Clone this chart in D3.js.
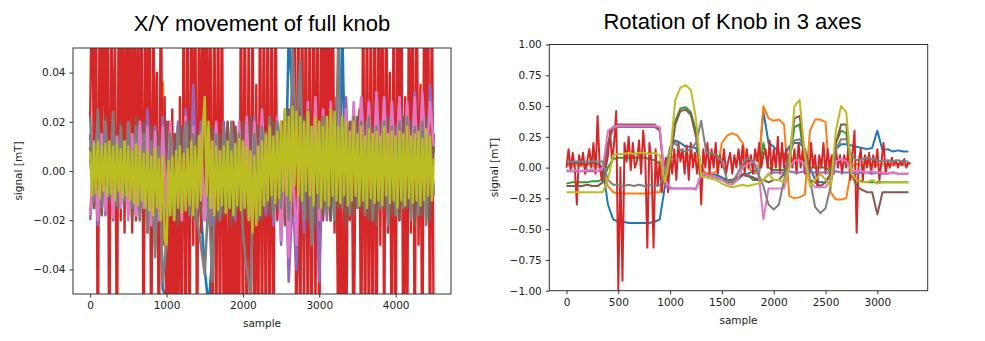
<!DOCTYPE html>
<html><head><meta charset="utf-8">
<script src="https://cdnjs.cloudflare.com/ajax/libs/d3/7.8.5/d3.min.js"></script>
<style>body{margin:0;background:#fff}svg{display:block}</style>
</head><body>
<svg id="c" width="985" height="341"></svg>
<script>
// ---------- shared ----------
const tab10 = ["#1f77b4","#ff7f0e","#2ca02c","#d62728","#9467bd","#8c564b","#e377c2","#7f7f7f","#bcbd22"];

// ---------- Left panel: X/Y movement (values in µT, plotted as mT) ----------
const xyTitle = "X/Y movement of full knob";
const xyTicksX = [0, 1000, 2000, 3000, 4000];
const xyTicksY = [-0.04, -0.02, 0.00, 0.02, 0.04];
const xyStep = 50;      // sample spacing of the coarse series
const xyStepFine = 25;  // sample spacing of red and olive
const xyBlue = [5,-12,18,-10,20,-8,15,-14,22,-10, 18,-12,20,-15,16,-18,12,-30,10,-48, -52,-20,8,-15,14,-10,18,-12,15,-16,
  -40,-55,-35,-15,10,-12,15,-8,18,-10, 12,-20,8,-15,14,-12,18,-10,15,-14, 20,-18,55,30,-20,-45,10,-30,15,-12,
  18,-15,22,-20,25,-40,60,-20,15,-10, 20,-12,18,-15,22,-10,20,-18,15,-12, 18,-14,20,-12,22,-15,18,-10,20,-12,15];
const xyOrange = [8,-10,12,-8,14,-12,10,-9,15,-11, 12,-14,15,-10,18,-12,20,38,-15,36, -10,15,-12,18,-14,12,-10,15,-12,16,
  -15,14,-12,16,-18,12,-14,15,-10,12, -22,14,-12,18,-14,12,-16,15,-12,18, -15,12,-14,16,-18,14,-28,12,-15,10,
  -14,12,-16,15,-12,18,-14,12,-15,16, -12,14,-16,12,-15,18,-13,14,-18,12, -14,15,-12,18,-16,12,-14,15,-12,14,-10];
const xyGreen = [10,-12,14,-9,16,-13,12,-10,15,-11, 14,-12,16,-14,12,-15,18,-12,14,-16, 12,-18,14,-15,16,-12,18,-14,12,-15,
  14,-16,12,-18,15,-12,14,-20,16,-13, 15,-14,12,-16,18,-12,14,-15,13,-17, 12,-15,16,-12,18,-14,15,-13,12,-16,
  14,-12,17,-15,12,-18,15,-13,16,-12, 14,-16,12,-15,18,-12,14,-15,16,-13, 12,-15,14,-12,16,-14,12,-15,14,-12,10];
const xyRed = [20,90,-10,90,-90,85,-5,90,-15,90, -90,90,-20,60,-90,90,-20,90,-25,85, -10,90,-25,90,-20,80,-20,90,-90,90,
  -25,90,-90,85,-20,40,-90,90,-30,30, -90,20,-90,25,-90,15,-90,30,-85,90, -90,90,-90,90,-30,90,-90,80,-25,90,
  -20,90,-15,70,-90,90,-90,90,-90,90, -90,15,-90,10,-90,20,-90,12,-90,90, -90,90,-90,60,-90,90,-90,35,-90,90,
  -90,90,-90,90,-90,80,-90,90,-20,15, -15,20,-10,15,-20,25,-10,90,-90,90, -90,90,-70,90,-90,85,-90,90,-60,90,
  -90,90,-20,90,-15,85,-20,90,-25,30, -90,25,-90,10,-90,15,-20,20,-90,15, -15,25,-90,90,-90,90,-90,85,-90,90,
  -90,90,-30,90,-80,90,-25,40,-90,90, -90,90,-20,90,-90,30,-90,90,-25,85, -90,90,-30,35,-90,90,-20,90,-90,90, -90];
const xyPurple = [-20,5,-22,10,-18,8,-20,12,-15,10, -16,14,-18,20,-12,25,-15,18,-20,22, -18,15,-14,20,-12,25,-15,35,-10,20,
  -18,15,-22,18,-15,20,-12,18,-20,15, -15,18,-20,22,-14,20,-18,15,-22,18, -30,15,-45,-10,-40,12,-25,20,-30,15,
  -45,10,-20,25,-15,28,-12,30,-10,25, -8,30,-5,28,-10,32,-6,30,-8,28, -5,30,-10,28,-6,32,-8,30,-5,35,10];
const xyBrown = [15,-15,20,-18,22,-12,18,-15,20,-14, 18,-20,22,-15,20,-22,18,-25,15,-20, 20,-18,15,-22,18,-15,20,-20,16,-18,
  22,-15,18,-20,15,-18,20,-22,18,-15, 20,-18,22,-15,18,-20,16,-18,20,-15, 18,-22,25,-18,20,-15,22,-20,18,-22,
  20,-18,22,-20,25,-15,18,-22,20,-18, 22,-15,20,-20,18,-22,20,-15,22,-18, 18,-20,22,-15,20,-22,18,-18,22,-20,15];
const xyPink = [-18,12,-20,15,-16,10,-19,14,-15,12, -20,15,-18,20,-15,18,-22,16,-20,18, -15,20,-18,15,-20,22,-14,18,-16,15,
  -20,18,-15,20,-18,15,-12,18,-16,20, -14,22,-18,20,-12,25,-15,20,-18,22, -28,10,-35,5,-30,15,-20,28,-10,30,
  -20,25,-15,28,-8,30,-5,25,-10,28, -5,30,0,28,-8,32,-2,30,-5,28, 0,30,-8,28,-2,30,-5,32,0,28,10];
const xyGray = [22,-12,25,-15,20,-10,24,-14,18,-12, 20,-15,18,-20,15,-25,12,-35,10,-45, -30,15,-20,18,-15,20,-18,15,-20,-30,
  -42,-10,-45,15,-20,18,-15,20,-18,15, -25,-40,-50,15,-20,18,-15,22,-18,20, -15,25,-20,50,10,45,-20,25,-30,20,
  -15,22,-18,25,-20,55,-15,20,-18,22, -15,20,-18,22,-20,18,-15,20,-22,18, -18,20,-15,22,-20,18,-18,20,-22,15,-10];
const xyOlive = [8,-10,11,-9,12,-11,10,-8,11,-10, 12,-9,10,-12,11,-8,9,-11,12,-10, 10,-12,8,-13,11,-14,9,-12,7,-15,
  8,-16,6,-18,9,-15,5,-20,6,-28, -30,4,-18,6,-20,8,-15,10,-17,7, -16,9,-14,12,-18,10,-15,14,-12,18,
  30,-10,20,-15,12,-18,10,-16,8,-14, 10,-17,12,-15,8,-18,11,-14,13,-16, 12,-15,10,-20,8,-25,6,-22,10,-18,
  12,-14,15,-12,18,-10,14,-13,16,-11, 20,-8,25,-10,22,-12,26,-6,24,-10, 22,-12,20,-8,24,-10,18,-14,22,-9,
  20,-15,18,-12,22,-14,25,-10,24,-12, 18,-13,22,-10,20,-14,16,-12,20,-10, 15,-14,18,-12,14,-15,17,-11,15,-13,
  16,-12,14,-14,18,-10,15,-13,16,-12, 14,-15,16,-12,15,-14,18,-11,14,-13, 15,-12,16,-14,13,-12,17,-10,14,-12, 5];

// ---------- Right panel: rotation (mT) ----------
const rotTitle = "Rotation of Knob in 3 axes";
const rotTicksX = [0, 500, 1000, 1500, 2000, 2500, 3000];
const rotTicksY = [-1.00, -0.75, -0.50, -0.25, 0.00, 0.25, 0.50, 0.75, 1.00];
const rotStep = 50;
const rotStepRed = 20;
const rotBlue = [0.03,0.03,0.04,0.03,0.03,0.04,0.03,0.0,-0.3,-0.42, -0.44,-0.44,-0.45,-0.45,-0.45,-0.45,-0.45,-0.44,-0.42,-0.15,
  0.15,0.22,0.2,0.17,0.17,0.16,0.0,-0.05,-0.05,-0.06, -0.08,-0.1,-0.12,-0.1,-0.06,-0.05,-0.03,-0.02,0.46,0.2,
  0.17,0.12,0.1,0.17,0.2,0.2,0.15,0.0,-0.1,-0.12, -0.12,-0.05,0.15,0.19,0.19,0.18,0.17,0.16,0.15,0.16, 0.3,0.14,0.15,0.13,0.14,0.13,0.13];
const rotOrange = [0.02,0.01,0.02,0.01,0.02,0.02,0.01,-0.02,-0.15,-0.2, -0.21,-0.21,-0.21,-0.21,-0.21,-0.21,-0.21,-0.2,-0.2,-0.05,
  0.08,0.1,0.1,0.08,0.1,0.1,0.0,-0.05,-0.05,-0.03, 0.2,0.26,0.28,0.26,0.2,0.0,-0.04,-0.05,0.5,0.4,
  0.38,0.39,0.35,-0.23,-0.25,-0.24,-0.22,0.3,0.39,0.39, 0.37,-0.2,-0.26,-0.26,-0.25,0.0,0.03,0.02,0.03,0.02, 0.02,0.03,0.02,0.02,0.03,0.02,0.03];
const rotGreen = [-0.13,-0.12,-0.12,-0.12,-0.12,-0.11,-0.11,-0.1,0.0,0.07, 0.08,0.08,0.08,0.08,0.08,0.08,0.07,0.06,0.03,-0.1,
  0.1,0.38,0.48,0.49,0.45,0.3,-0.05,-0.06,-0.07,-0.08, -0.1,-0.12,-0.12,-0.1,-0.05,-0.06,-0.1,-0.1,0.2,0.0,
  -0.02,-0.02,-0.02,0.05,0.33,0.35,0.05,0.0,0.0,0.0, 0.0,-0.03,0.2,0.3,0.28,-0.05,-0.1,-0.11,-0.12,-0.12, -0.12,-0.12,-0.12,-0.12,-0.12,-0.12,-0.12];
const rotRed = [0.0,0.15,-0.02,0.12,0.0,-0.3,0.1,0.02,0.12,-0.05, 0.05,0.15,0.0,0.2,-0.05,0.42,0.02,-0.1,0.05,0.0,
  0.1,0.3,0.05,0.2,0.46,-1.0,0.0,-0.92,0.2,0.05, 0.25,-0.02,0.2,0.0,0.05,0.22,-0.05,0.3,0.1,-0.65,
  0.2,0.05,-0.65,0.15,-0.15,0.05,-0.2,0.0,0.08,-0.2, 0.1,-0.05,0.15,-0.1,0.2,0.05,0.15,-0.05,0.18,-0.1,
  0.2,0.0,0.12,-0.05,0.1,-0.3,0.15,0.0,0.2,-0.05, 0.15,0.0,0.2,-0.05,0.1,0.0,0.15,-0.05,0.05,0.12,
  -0.05,0.1,0.0,0.15,0.0,0.18,-0.05,0.15,0.0,0.1, -0.05,0.15,0.05,0.2,0.0,0.1,0.15,0.0,0.22,-0.05,
  0.15,0.0,0.25,-0.05,0.2,0.0,0.15,-0.02,0.12,0.0, 0.15,-0.05,0.2,0.0,0.15,-0.05,0.1,-0.1,0.2,0.0,
  0.1,-0.15,0.1,0.0,0.2,-0.05,0.15,0.0,0.1,-0.05, 0.15,0.0,0.1,-0.05,0.1,0.0,0.15,-0.1,0.1,0.3,
  -0.53,0.05,0.15,-0.1,0.1,0.0,0.12,-0.05,0.1,0.0, 0.15,-0.1,0.05,0.2,-0.05,0.05,0.0,0.08,0.02,0.06, 0.0,0.05,0.02,0.07,0.0,0.04,0.03];
const rotPurple = [-0.03,-0.03,-0.03,-0.03,-0.03,-0.03,-0.03,-0.02,0.2,0.32, 0.33,0.33,0.33,0.33,0.33,0.33,0.33,0.33,0.3,-0.15,
  -0.17,-0.17,-0.17,-0.17,-0.17,-0.17,-0.05,-0.06,-0.07,-0.08, -0.1,-0.1,-0.1,-0.08,-0.06,-0.06,-0.08,-0.1,-0.1,-0.05,
  -0.04,-0.04,-0.04,-0.03,-0.04,-0.04,-0.03,-0.04,-0.04,-0.04, -0.04,-0.04,-0.03,-0.04,-0.04,-0.04,-0.05,-0.04,-0.04,-0.05, -0.04,-0.05,-0.05,-0.04,-0.05,-0.05,-0.05];
const rotBrown = [-0.15,-0.15,-0.15,-0.15,-0.14,-0.15,-0.15,-0.12,0.2,0.33, 0.35,0.35,0.35,0.35,0.35,0.35,0.35,0.35,0.3,-0.1,
  0.05,0.35,0.46,0.47,0.43,0.25,-0.05,-0.06,-0.07,-0.08, -0.1,-0.1,-0.1,-0.08,-0.06,-0.07,-0.08,-0.1,-0.1,-0.12,
  -0.1,-0.1,-0.05,0.1,0.4,0.42,0.1,-0.1,-0.12,-0.15, -0.12,-0.05,0.2,0.35,0.35,-0.05,-0.15,-0.18,-0.2,-0.2, -0.38,-0.2,-0.2,-0.2,-0.2,-0.2,-0.2];
const rotPink = [-0.02,-0.03,-0.02,-0.03,-0.02,-0.02,-0.03,0.0,0.3,0.33, 0.34,0.34,0.34,0.34,0.34,0.34,0.34,0.34,0.33,-0.1,
  -0.16,-0.17,-0.17,-0.17,-0.17,-0.18,-0.05,-0.06,-0.07,-0.08, -0.1,-0.13,-0.14,-0.1,0.0,0.03,0.05,0.0,-0.42,-0.17,
  -0.17,-0.17,-0.17,0.0,0.06,0.06,0.03,-0.12,-0.16,-0.16, -0.16,-0.1,0.05,0.07,0.05,-0.02,-0.03,-0.03,-0.04,-0.03, -0.04,-0.04,-0.05,-0.04,-0.05,-0.05,-0.05];
const rotGray = [0.05,0.05,0.05,0.05,0.05,0.05,0.05,0.05,-0.1,-0.14, -0.14,-0.15,-0.14,-0.15,-0.14,-0.15,-0.14,-0.15,-0.14,-0.05,
  0.17,0.2,0.14,0.13,0.15,0.2,0.38,0.12,0.12,0.1, 0.05,-0.1,-0.12,-0.05,0.03,0.08,0.05,-0.05,-0.15,-0.3,
  -0.34,-0.3,-0.1,0.1,0.22,0.23,0.15,-0.1,-0.32,-0.37, -0.33,-0.15,0.15,0.23,0.23,0.1,0.06,0.07,0.08,0.07, 0.06,0.05,0.06,0.05,0.06,0.05,0.05];
const rotOlive = [-0.2,-0.2,-0.2,-0.2,-0.2,-0.2,-0.2,-0.2,-0.1,0.1, 0.11,0.11,0.12,0.11,0.12,0.12,0.11,0.12,0.1,-0.12,
  0.1,0.55,0.65,0.67,0.63,0.4,-0.07,-0.08,-0.09,-0.1, -0.13,-0.15,-0.16,-0.15,-0.14,-0.15,-0.14,-0.13,-0.1,-0.05,
  -0.1,-0.1,-0.12,0.0,0.5,0.55,0.1,-0.15,-0.1,-0.05, -0.1,-0.15,0.3,0.5,0.45,-0.05,-0.1,-0.12,-0.12,-0.1, -0.13,-0.12,-0.12,-0.12,-0.12,-0.12,-0.12];

// ---------- drawing ----------
const svg = d3.select("#c");
const fmt = v => d3.format(".2f")(v).replace("-", "\u2212");

function panel(cfg, id) {
  const x = d3.scaleLinear().domain(cfg.xDomain).range([cfg.left, cfg.right]);
  const y = d3.scaleLinear().domain(cfg.yDomain).range([cfg.bottom, cfg.top]);
  svg.append("clipPath").attr("id", id).append("rect")
    .attr("x", cfg.left).attr("y", cfg.top)
    .attr("width", cfg.right - cfg.left).attr("height", cfg.bottom - cfg.top);
  const g = svg.append("g").attr("clip-path", `url(#${id})`);
  cfg.series.forEach((s, k) => {
    const line = d3.line().x((d, i) => x(i * s.step)).y(d => y(d * cfg.unit));
    g.append("path").datum(s.values).attr("d", line)
      .attr("fill", "none").attr("stroke", tab10[k])
      .attr("stroke-width", s.lw || cfg.lw).attr("stroke-linejoin", "round");
  });
  // spines
  svg.append("rect").attr("x", cfg.left).attr("y", cfg.top)
    .attr("width", cfg.right - cfg.left).attr("height", cfg.bottom - cfg.top)
    .attr("fill", "none").attr("stroke", "#333").attr("stroke-width", 1);
  const ax = svg.append("g").attr("transform", `translate(0,${cfg.bottom})`)
    .call(d3.axisBottom(x).tickValues(cfg.xTicks).tickFormat(d3.format("d")).tickSize(3.5).tickPadding(4));
  const ay = svg.append("g").attr("transform", `translate(${cfg.left},0)`)
    .call(d3.axisLeft(y).tickValues(cfg.yTicks).tickFormat(fmt).tickSize(3.5).tickPadding(4));
  [ax, ay].forEach(a => {
    a.select(".domain").remove();
    a.selectAll("line").attr("stroke", "#333");
    a.selectAll("text").attr("fill", "#222").attr("font-family", "DejaVu Sans").attr("font-size", "10.5px");
  });
  svg.append("text").attr("x", (cfg.left + cfg.right) / 2 + cfg.titleDx).attr("y", cfg.titleY)
    .attr("text-anchor", "middle").attr("font-family", "Liberation Sans, Arial").attr("font-size", "22px")
    .attr("fill", "#000").text(cfg.title);
  svg.append("text").attr("x", (cfg.left + cfg.right) / 2).attr("y", cfg.xlabY)
    .attr("text-anchor", "middle").attr("font-family", "DejaVu Sans").attr("font-size", "10.5px")
    .attr("fill", "#222").text("sample");
  svg.append("text").attr("transform", `translate(${cfg.ylabX},${(cfg.top + cfg.bottom) / 2}) rotate(-90)`)
    .attr("text-anchor", "middle").attr("font-family", "DejaVu Sans").attr("font-size", "10.5px")
    .attr("fill", "#222").text("signal [mT]");
}

panel({
  left: 73, right: 451, top: 48, bottom: 294,
  xDomain: [-225, 4725], yDomain: [-0.05, 0.05], unit: 0.001, lw: 2.6,
  xTicks: xyTicksX, yTicks: xyTicksY, title: xyTitle, titleDx: 0, titleY: 30.5,
  xlabY: 327, ylabX: 22,
  series: [
    {values: xyBlue, step: xyStep}, {values: xyOrange, step: xyStep}, {values: xyGreen, step: xyStep},
    {values: xyRed, step: xyStepFine, lw: 2.4}, {values: xyPurple, step: xyStep}, {values: xyBrown, step: xyStep},
    {values: xyPink, step: xyStep}, {values: xyGray, step: xyStep}, {values: xyOlive, step: xyStepFine, lw: 2.4}
  ]
}, "clipL");

panel({
  left: 549.3, right: 927.7, top: 44.5, bottom: 290.7,
  xDomain: [-166, 3486], yDomain: [-1, 1], unit: 1, lw: 2,
  xTicks: rotTicksX, yTicks: rotTicksY, title: rotTitle, titleDx: -6, titleY: 29.3,
  xlabY: 324, ylabX: 498,
  series: [
    {values: rotBlue, step: rotStep}, {values: rotOrange, step: rotStep}, {values: rotGreen, step: rotStep},
    {values: rotRed, step: rotStepRed}, {values: rotPurple, step: rotStep}, {values: rotBrown, step: rotStep},
    {values: rotPink, step: rotStep}, {values: rotGray, step: rotStep}, {values: rotOlive, step: rotStep}
  ]
}, "clipR");
</script>
</body></html>
